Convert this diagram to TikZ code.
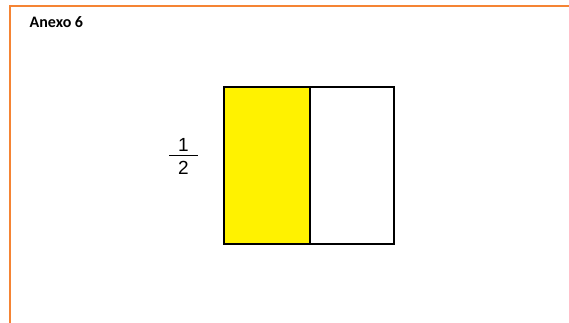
\documentclass[tikz,border=0pt]{standalone}
\usepackage{fontspec}
\setmainfont{Liberation Sans}
\newfontfamily\carlito{Carlito}
\definecolor{frameorange}{RGB}{245,132,52}
\definecolor{fillyellow}{RGB}{255,242,0}
\begin{document}
\begin{tikzpicture}[x=1pt,y=-1pt,
  frameline/.style={draw=frameorange,line width=2.2pt},
  box/.style={draw=black,line width=2pt},
  digit/.style={font=\fontsize{19}{19}\selectfont,inner sep=0pt,anchor=base}]
\useasboundingbox (0,0) rectangle (569,323);
\fill[white] (0,0) rectangle (569,323);
\coordinate (tl) at (10,6);
\coordinate (tr) at (569,6);
\coordinate (bl) at (10,323);
\draw[frameline] (tr) -- (tl) -- (bl);
\node[anchor=base west,inner sep=0pt,font=\carlito\bfseries\fontsize{16}{16}\selectfont] (title) at (29.5,27.5) {Anexo 6};
% fraction
\node[digit] (one) at (183.5,151.8) {1};
\node[digit] (two) at (183.5,174.5) {2};
\coordinate (barL) at (169,155.5);
\coordinate (barR) at (198,155.5);
\draw[line width=1.5pt] (barL) -- (barR);
% rectangle
\fill[fillyellow] (224,87.5) rectangle (309.5,243.5);
\draw[box] (224,87.5) rectangle (394,243.5);
\draw[box] (309.5,87.5) -- (309.5,243.5);
\end{tikzpicture}
\end{document}
